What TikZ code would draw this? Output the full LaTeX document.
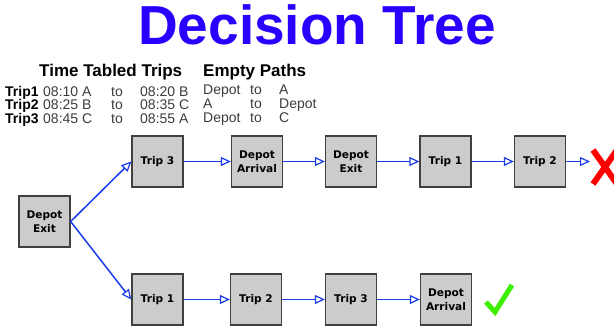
\documentclass[tikz,border=0pt]{standalone}
\usepackage{fontspec}
\setmainfont{Liberation Sans}
\newfontfamily\boxfont{DejaVu Sans}
\usetikzlibrary{arrows.meta}
\definecolor{titleblue}{RGB}{40,0,255}
\definecolor{linkblue}{RGB}{25,60,230}
\definecolor{boxgray}{RGB}{204,204,204}
\definecolor{boxedge}{RGB}{64,64,64}
\definecolor{textgray}{RGB}{60,60,60}
\definecolor{okgreen}{RGB}{60,240,0}
\begin{document}
\begin{tikzpicture}[x=1pt,y=-1pt,
  stepbox/.style={draw=boxedge, line width=1.3pt, fill=boxgray,
    minimum width=51pt, minimum height=51pt, inner sep=0pt,
    align=center, font=\boxfont\bfseries\fontsize{10.6}{13.5}\selectfont},
  link/.style={draw=linkblue, line width=1.5pt,
    -{Triangle[open, length=10pt, width=9pt, line width=1.2pt]}},
  hdr/.style={anchor=base west, inner sep=0pt, font=\bfseries\fontsize{17}{17}\selectfont},
  cell/.style={anchor=base west, inner sep=0pt, text=textgray, font=\fontsize{14}{14}\selectfont},
  tripname/.style={anchor=base west, inner sep=0pt, font=\bfseries\fontsize{14}{14}\selectfont}]
\useasboundingbox (0,0) rectangle (614,329);
\clip (0,0) rectangle (614,329);

% title
\node[anchor=base, inner sep=0pt, text=titleblue,
  font=\bfseries\fontsize{55}{55}\selectfont] (title) at (317,45) {Decision Tree};

% timetable
\node[hdr] (tthdr) at (39,77) {Time Tabled Trips};
\node[hdr] (ephdr) at (203,77) {Empty Paths};

\node[tripname] (n1) at (5,96) {Trip1};
\node[cell] (d1) at (43,96) {08:10 A};
\node[cell] (t1) at (111,96) {to};
\node[cell] (a1) at (140,96) {08:20 B};
\node[tripname] (n2) at (5,110) {Trip2};
\node[cell] (d2) at (43,110) {08:25 B};
\node[cell] (t2) at (111,110) {to};
\node[cell] (a2) at (140,110) {08:35 C};
\begin{scope}
  \clip (0,0) rectangle (200,127.5);
  \node[tripname] (n3) at (5,124) {Trip3};
  \node[cell] (d3) at (43,124) {08:45 C};
  \node[cell] (t3) at (111,124) {to};
  \node[cell] (a3) at (140,124) {08:55 A};
\end{scope}

\node[cell] (e1a) at (203,95) {Depot};
\node[cell] (e1b) at (250,95) {to};
\node[cell] (e1c) at (279,95) {A};
\node[cell] (e2a) at (203,109) {A};
\node[cell] (e2b) at (250,109) {to};
\node[cell] (e2c) at (279,109) {Depot};
\node[cell] (e3a) at (203,123) {Depot};
\node[cell] (e3b) at (250,123) {to};
\node[cell] (e3c) at (279,123) {C};

% decision tree
\node[stepbox] (root) at (44.5,221.5) {Depot\\Exit};

\node[stepbox] (u1) at (157.5,161.5) {Trip 3};
\node[stepbox] (u2) at (257,161.5) {Depot\\Arrival};
\node[stepbox] (u3) at (351,161.5) {Depot\\Exit};
\node[stepbox] (u4) at (445.5,161.5) {Trip 1};
\node[stepbox] (u5) at (540,161.5) {Trip 2};
\coordinate (uend) at (590,161.5);

\node[stepbox] (l1) at (157.5,299.5) {Trip 1};
\node[stepbox] (l2) at (256,299.5) {Trip 2};
\node[stepbox] (l3) at (351,299.5) {Trip 3};
\node[stepbox] (l4) at (446,299.5) {Depot\\Arrival};

\draw[link] (root.east) -- (u1.west);
\draw[link] (root.east) -- (l1.west);
\draw[link] (u1) -- (u2);
\draw[link] (u2) -- (u3);
\draw[link] (u3) -- (u4);
\draw[link] (u4) -- (u5);
\draw[link] (u5) -- (uend);
\draw[link] (l1) -- (l2);
\draw[link] (l2) -- (l3);
\draw[link] (l3) -- (l4);

% outcome marks
\draw[red, line width=6pt] (593,150) -- (617,184) (617,150) -- (593,184);
\draw[okgreen, line width=5pt, line join=miter] (486,302) -- (495,312) -- (512,285);
\end{tikzpicture}
\end{document}
